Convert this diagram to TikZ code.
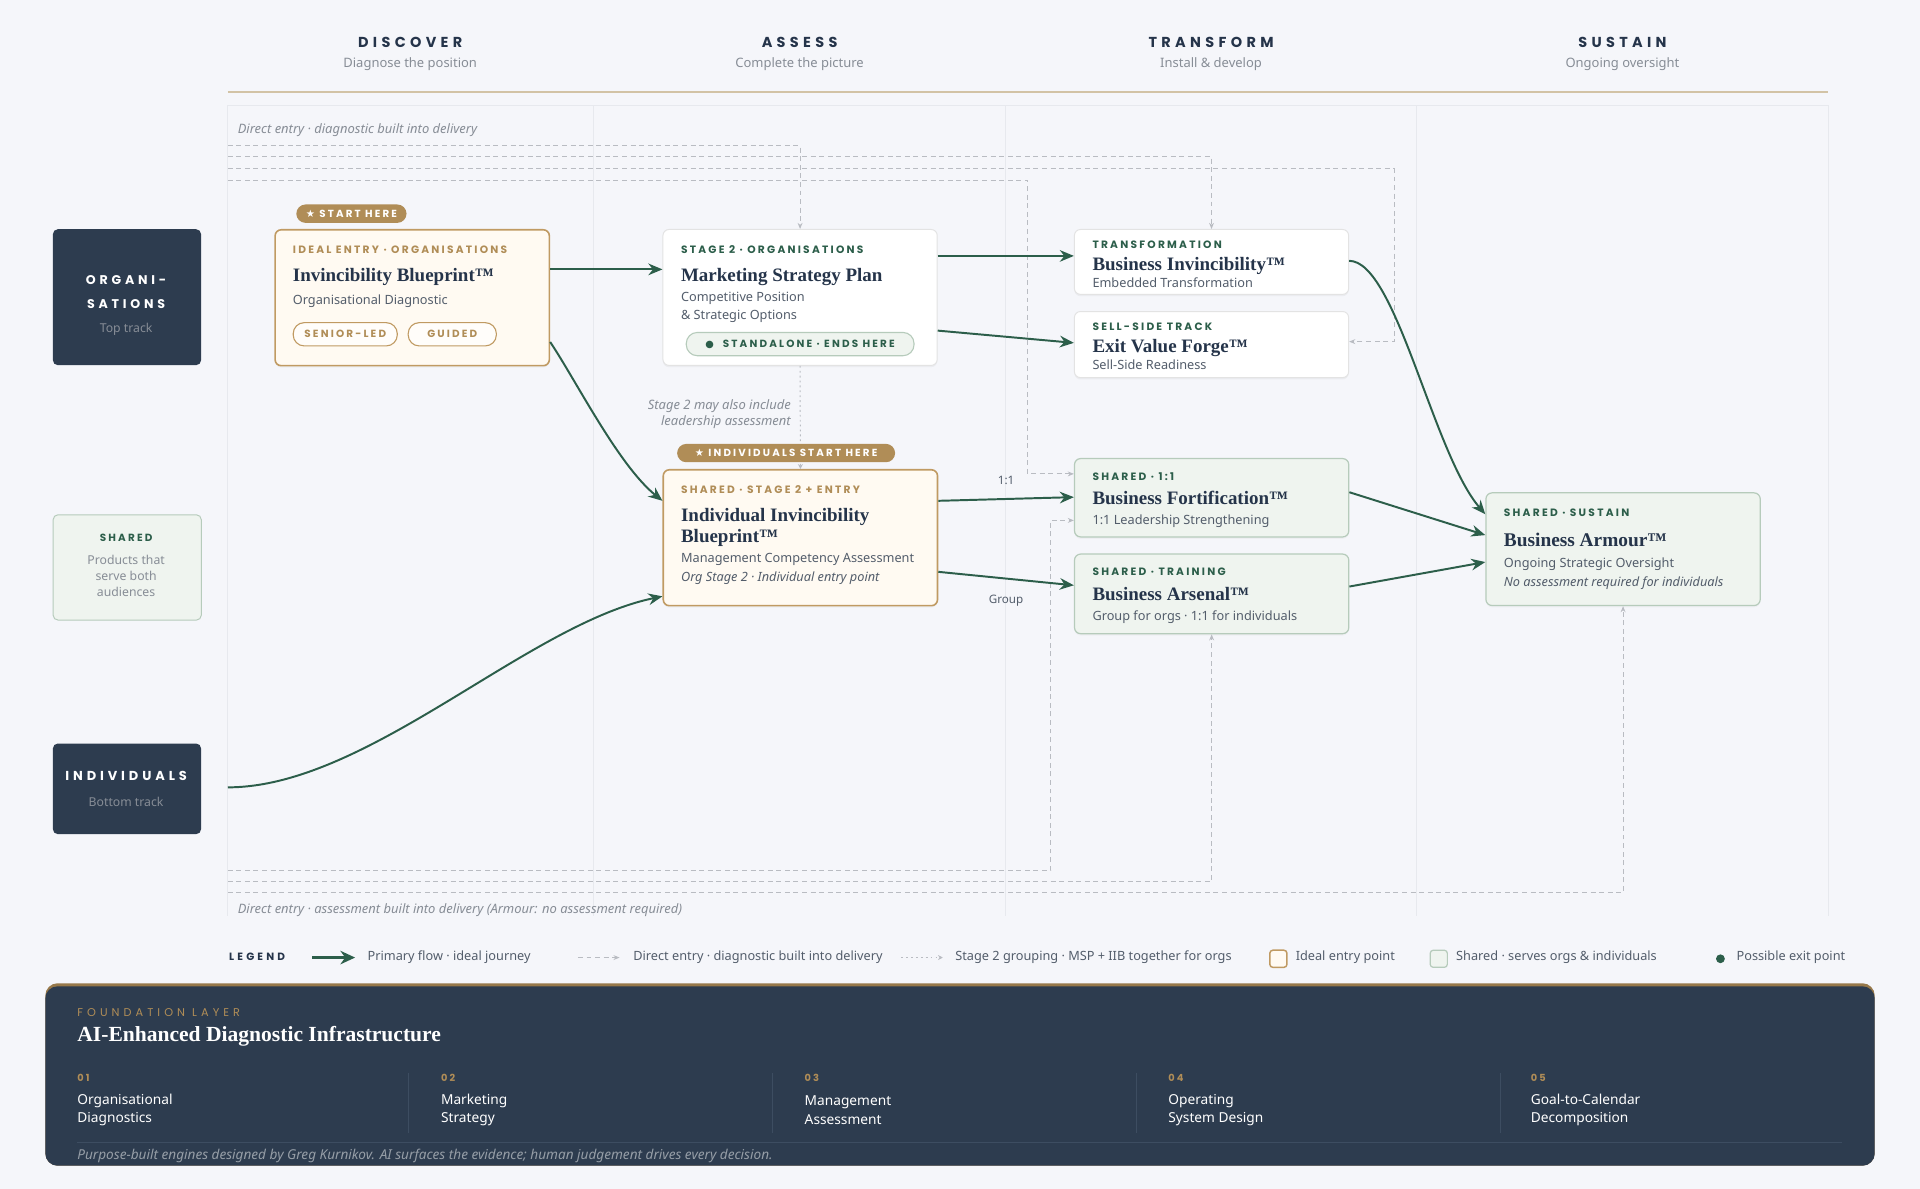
\documentclass[tikz,border=0pt]{standalone}
\usepackage{fontspec}
\usepackage{xcolor}
\usetikzlibrary{arrows.meta,calc,positioning,shadows}
\setsansfont{Noto Sans}
\renewcommand{\familydefault}{\sfdefault}
\newfontfamily\titlefont{Liberation Serif}
\newfontfamily\capsfont[LetterSpace=21]{Poppins}
\newfontfamily\headfont[LetterSpace=30]{Poppins}
\newfontfamily\widefont[LetterSpace=36]{Poppins}
\newfontfamily\symfont{DejaVu Sans}

\definecolor{bgc}{HTML}{F5F6FA}
\definecolor{navy}{HTML}{2D3C4F}
\definecolor{ink}{HTML}{25344A}
\definecolor{slate}{HTML}{535D6B}
\definecolor{muted}{HTML}{878D96}
\definecolor{tan}{HTML}{B08D57}
\definecolor{tanline}{HTML}{C09A62}
\definecolor{cream}{HTML}{FFFAF2}
\definecolor{pine}{HTML}{2C5E4A}
\definecolor{sage}{HTML}{EFF4EF}
\definecolor{sageline}{HTML}{B6CBBB}
\definecolor{dashc}{HTML}{B9BCC2}
\definecolor{gridc}{HTML}{E7E9EE}
\definecolor{rule}{HTML}{D2C3A6}
\definecolor{fline}{HTML}{3D4D61}

\begin{document}
\begin{tikzpicture}[x=1pt,y=-1pt,>=Stealth,
  every node/.style={inner sep=0pt},
  card/.style={draw,rounded corners=5pt,anchor=north west,minimum width=224pt},
  orgcard/.style={card,fill=white,draw=black!11,line width=0.8pt,drop shadow={opacity=0.08,shadow xshift=0pt,shadow yshift=-1.5pt}},
  entrycard/.style={card,fill=cream,draw=tanline,line width=1.3pt,drop shadow={opacity=0.06,shadow xshift=0pt,shadow yshift=-1.5pt}},
  sharedcard/.style={card,fill=sage,draw=sageline,line width=1pt,drop shadow={opacity=0.06,shadow xshift=0pt,shadow yshift=-1.5pt}},
  track/.style={fill=navy,rounded corners=4pt,anchor=north west,minimum width=121pt},
  tag/.style={anchor=west,font=\capsfont\bfseries\fontsize{8.7}{9}\selectfont},
  ttl/.style={anchor=west,align=left,text=ink,font=\titlefont\bfseries\fontsize{15.5}{17}\selectfont},
  sub/.style={anchor=west,align=left,text=slate,font=\fontsize{10.4}{14}\selectfont},
  note/.style={text=muted,font=\itshape\fontsize{10.6}{13}\selectfont},
  pill/.style={draw=tanline,fill=white!60!cream,line width=0.9pt,rounded corners=9pt,minimum height=19pt,anchor=west,text=tan,font=\capsfont\bfseries\fontsize{8.5}{9}\selectfont},
  badge/.style={fill=tan,text=white,rounded corners=7.5pt,minimum height=15pt,font=\capsfont\bfseries\fontsize{8.4}{9}\selectfont},
  head/.style={text=ink,font=\headfont\bfseries\fontsize{11.8}{13}\selectfont},
  headsub/.style={text=muted,font=\fontsize{10.6}{12}\selectfont},
  flow/.style={pine,line width=1.6pt,-{Stealth[length=11.5pt,width=9.5pt]}},
  direct/.style={dashc,line width=0.8pt,dash pattern=on 4pt off 3pt,-{Stealth[length=5pt,width=4pt]}},
  grouping/.style={dashc,line width=0.8pt,dash pattern=on 1.5pt off 2.5pt,-{Stealth[length=4pt,width=4pt]}},
  legtxt/.style={anchor=west,text=slate,font=\fontsize{10.4}{12}\selectfont},
  fnum/.style={anchor=west,text=tan,font=\capsfont\bfseries\fontsize{8}{9}\selectfont},
  ftxt/.style={anchor=west,align=left,text=white,font=\fontsize{11.2}{15}\selectfont}]

% page and stage grid
\fill[bgc] (0,0) rectangle (1568,971);
\foreach \nm/\x/\t/\s in {dis/335/DISCOVER/Diagnose the position, ass/653/ASSESS/Complete the picture,
    tra/989/TRANSFORM/Install \& develop, sus/1325/SUSTAIN/Ongoing oversight} {
  \node[head] (h-\nm) at (\x,35) {\t};
  \node[headsub] (hs-\nm) at (\x,52) {\s};
}
\draw[rule,line width=2pt] (186,75) -- (1493,75);
\draw[gridc,line width=0.8pt] (186,86) -- (1493,86);
\foreach \x in {186,485,821,1157,1493}
  \draw[gridc,line width=0.8pt] (\x,86) -- (\x,748);

% track labels
\node[track,minimum height=111pt] (org) at (43,187) {};
\node[text=white,align=center,font=\headfont\bfseries\fontsize{10.3}{19}\selectfont] (org-t) at (103,238.5) {ORGANI-\\SATIONS};
\node[text=muted,font=\fontsize{10}{11}\selectfont] (org-s) at (103,269) {Top track};
\node[track,fill=sage,draw=sageline,line width=0.8pt,minimum height=86pt] (shr) at (43,420) {};
\node[text=pine,font=\capsfont\bfseries\fontsize{8.5}{9}\selectfont] (shr-t) at (103,439) {SHARED};
\node[text=muted,align=center,font=\fontsize{10}{13}\selectfont] (shr-s) at (103,470) {Products that\\serve both\\audiences};
\node[track,minimum height=74pt] (ind) at (43,607) {};
\node[text=white,font=\headfont\bfseries\fontsize{10.6}{12}\selectfont] (ind-t) at (103,634) {INDIVIDUALS};
\node[text=muted,font=\fontsize{10}{11}\selectfont] (ind-s) at (103,655) {Bottom track};

% direct-entry routes
\node[note,anchor=west] (top-note) at (194,106) {Direct entry · diagnostic built into delivery};
\node[note,anchor=west] (bot-note) at (194,743) {Direct entry · assessment built into delivery (Armour: no assessment required)};
\coordinate (dA) at (186,119); \coordinate (dB) at (186,128);
\coordinate (dC) at (186,138); \coordinate (dD) at (186,147);
\coordinate (dE) at (186,711); \coordinate (dF) at (186,720); \coordinate (dG) at (186,729);
\coordinate (ind-in) at (186,643);

% products
\node[entrycard,minimum height=111pt] (ib) at (224,187) {};
\node[tag,text=tan] (ib-tag) at ([shift={(15,17)}]ib.north west) {IDEAL ENTRY · ORGANISATIONS};
\node[ttl] (ib-ttl) at ([shift={(15,39)}]ib.north west) {Invincibility Blueprint™};
\node[sub] (ib-sub) at ([shift={(15,59)}]ib.north west) {Organisational Diagnostic};
\node[pill,minimum width=85pt] (senior) at ([shift={(15,86)}]ib.north west) {SENIOR-LED};
\node[pill,minimum width=72pt,right=8pt of senior] (guided) {GUIDED};
\node[badge,minimum width=90pt] (start) at (287,174.5) {{\symfont ★} START HERE};

\node[orgcard,minimum height=111pt] (msp) at (541,187) {};
\node[tag,text=pine] (msp-tag) at ([shift={(15,17)}]msp.north west) {STAGE 2 · ORGANISATIONS};
\node[ttl] (msp-ttl) at ([shift={(15,39)}]msp.north west) {Marketing Strategy Plan};
\node[sub] (msp-sub) at ([shift={(15,64)}]msp.north west) {Competitive Position\\\& Strategic Options};
\node[pill,fill=sage,draw=sageline,text=pine,minimum width=186pt] (standalone) at ([shift={(19,94)}]msp.north west)
  {{\symfont\fontsize{8}{8}\selectfont ●}\ \ STANDALONE · ENDS HERE};

\node[orgcard,minimum height=53pt] (bi) at (877,187) {};
\node[tag,text=pine] (bi-tag) at ([shift={(15,13)}]bi.north west) {TRANSFORMATION};
\node[ttl] (bi-ttl) at ([shift={(15,30)}]bi.north west) {Business Invincibility™};
\node[sub] (bi-sub) at ([shift={(15,44)}]bi.north west) {Embedded Transformation};

\node[orgcard,minimum height=54pt] (evf) at (877,254) {};
\node[tag,text=pine] (evf-tag) at ([shift={(15,13)}]evf.north west) {SELL-SIDE TRACK};
\node[ttl] (evf-ttl) at ([shift={(15,30)}]evf.north west) {Exit Value Forge™};
\node[sub] (evf-sub) at ([shift={(15,44)}]evf.north west) {Sell-Side Readiness};

\node[entrycard,minimum height=111pt] (iib) at (541,383) {};
\node[tag,text=tan] (iib-tag) at ([shift={(15,17)}]iib.north west) {SHARED · STAGE 2 + ENTRY};
\node[ttl] (iib-ttl) at ([shift={(15,47.5)}]iib.north west) {Individual Invincibility\\Blueprint™};
\node[sub] (iib-sub) at ([shift={(15,74)}]iib.north west) {Management Competency Assessment};
\node[sub,font=\itshape\fontsize{10.4}{12}\selectfont] (iib-note) at ([shift={(15,89)}]iib.north west) {Org Stage 2 · Individual entry point};

\node[sharedcard,minimum height=64pt] (bf) at (877,374) {};
\node[tag,text=pine] (bf-tag) at ([shift={(15,15)}]bf.north west) {SHARED · 1:1};
\node[ttl] (bf-ttl) at ([shift={(15,33)}]bf.north west) {Business Fortification™};
\node[sub] (bf-sub) at ([shift={(15,52)}]bf.north west) {1:1 Leadership Strengthening};

\node[sharedcard,minimum height=65pt] (ba) at (877,452) {};
\node[tag,text=pine] (ba-tag) at ([shift={(15,15)}]ba.north west) {SHARED · TRAINING};
\node[ttl] (ba-ttl) at ([shift={(15,33)}]ba.north west) {Business Arsenal™};
\node[sub] (ba-sub) at ([shift={(15,52)}]ba.north west) {Group for orgs · 1:1 for individuals};

\node[sharedcard,minimum height=92pt] (arm) at (1213,402) {};
\node[tag,text=pine] (arm-tag) at ([shift={(15,17)}]arm.north west) {SHARED · SUSTAIN};
\node[ttl,font=\titlefont\bfseries\fontsize{15.8}{17}\selectfont] (arm-ttl) at ([shift={(15,39)}]arm.north west) {Business Armour™};
\node[sub] (arm-sub) at ([shift={(15,59)}]arm.north west) {Ongoing Strategic Oversight};
\node[sub,font=\itshape\fontsize{10.4}{12}\selectfont] (arm-note) at ([shift={(15,74)}]arm.north west) {No assessment required for individuals};

% stage 2 grouping
\draw[grouping] (msp.south) -- (iib.north);
\node[note,anchor=east,align=right] (s2-note) at (646,338.5) {Stage 2 may also include\\leadership assessment};
\node[badge,minimum width=178pt] (indstart) at (642,370) {{\symfont ★} INDIVIDUALS START HERE};

% direct entry (dashed)
\draw[direct] (dA) -| (msp.north);
\draw[direct] (dB) -| (bi.north);
\draw[direct] (dC) -| ($(evf.north east)+(37,25)$) -- ($(evf.north east)+(0,25)$);
\draw[direct] (dD) -| ($(bf.north west)+(-38,13)$) -- ($(bf.north west)+(0,13)$);
\draw[direct] (dE) -| ($(bf.north west)+(-19,51)$) -- ($(bf.north west)+(0,51)$);
\draw[direct] (dF) -| (ba.south);
\draw[direct] (dG) -| (arm.south);

% primary flow
\draw[flow] ($(ib.north east)+(0,33)$) -- ($(msp.north west)+(0,33)$);
\draw[flow] ($(ib.south east)+(0,-20)$) .. controls (470,310) and (505,380) .. ($(iib.north west)+(0,26)$);
\draw[flow] (ind-in) .. controls (300,643) and (430,510) .. ($(iib.north west)+(0,104)$);
\draw[flow] ($(msp.north east)+(0,22)$) -- ($(bi.north west)+(0,22)$);
\draw[flow] ($(msp.north east)+(0,83)$) -- ($(evf.north west)+(0,26)$);
\draw[flow] ($(iib.north east)+(0,26)$) -- ($(bf.north west)+(0,32)$)
  node[midway,above=11pt,text=slate,font=\fontsize{9.5}{10}\selectfont] (l-11) {1:1};
\draw[flow] ($(iib.north east)+(0,84)$) -- ($(ba.north west)+(0,26)$)
  node[midway,below=13pt,text=slate,font=\fontsize{9.5}{10}\selectfont] (l-grp) {Group};
\draw[flow] ($(bi.north east)+(0,26)$) .. controls (1140,213) and (1170,370) .. ($(arm.north west)+(0,18)$);
\draw[flow] ($(bf.north east)+(0,28)$) -- ($(arm.north west)+(0,35)$);
\draw[flow] ($(ba.north east)+(0,27)$) -- ($(arm.north west)+(0,57)$);

% legend
\node[anchor=west,text=ink,font=\headfont\bfseries\fontsize{8.6}{9}\selectfont] (leg) at (187,781) {LEGEND};
\draw[pine,line width=2.5pt,-{Stealth[length=12pt,width=11pt]}] (255,782) -- (290,782);
\node[legtxt] (leg1) at (300,782) {Primary flow · ideal journey};
\draw[direct] (472,782) -- (506,782);
\node[legtxt] (leg2) at (517,782) {Direct entry · diagnostic built into delivery};
\draw[grouping] (736,782) -- (770,782);
\node[legtxt] (leg3) at (780,782) {Stage 2 grouping · MSP + IIB together for orgs};
\draw[fill=cream,draw=tanline,line width=1.2pt,rounded corners=2.5pt] (1037,776) rectangle (1051,790);
\node[legtxt] (leg4) at (1058,782) {Ideal entry point};
\draw[fill=sage,draw=sageline,line width=1pt,rounded corners=2.5pt] (1168,776) rectangle (1182,790);
\node[legtxt] (leg5) at (1189,782) {Shared · serves orgs \& individuals};
\fill[pine] (1405,783) circle (3.6pt);
\node[legtxt] (leg6) at (1418,782) {Possible exit point};

% foundation layer
\fill[tan!85!black,rounded corners=10pt] (37,803) rectangle (1531,952);
\fill[navy,rounded corners=10pt] (37,805.5) rectangle (1531,952);
\node[anchor=west,text=tan,font=\widefont\fontsize{9.2}{9}\selectfont] (fl-tag) at (63,827) {FOUNDATION LAYER};
\node[anchor=west,text=white,font=\titlefont\bfseries\fontsize{17.6}{18}\selectfont] (fl-ttl) at (63,846) {AI-Enhanced Diagnostic Infrastructure};
\foreach \n/\x/\a/\b in {01/63/Organisational/Diagnostics, 02/360/Marketing/Strategy, 03/657/Management/Assessment,
    04/954/Operating/System Design, 05/1250/Goal-to-Calendar/Decomposition} {
  \node[fnum] (fn\n) at (\x,880) {\n};
  \node[ftxt] (ft\n) at (\x,906.5) {\a\\\b};
}
\foreach \x in {334,631,928,1225}
  \draw[fline,line width=0.8pt] (\x,876) -- (\x,925);
\draw[fline,line width=0.8pt] (63,933) -- (1504,933);
\node[anchor=west,text=white!50!navy,font=\itshape\fontsize{11.1}{11}\selectfont] (fl-foot) at (63,944)
  {Purpose-built engines designed by Greg Kurnikov. AI surfaces the evidence; human judgement drives every decision.};
\end{tikzpicture}
\end{document}
